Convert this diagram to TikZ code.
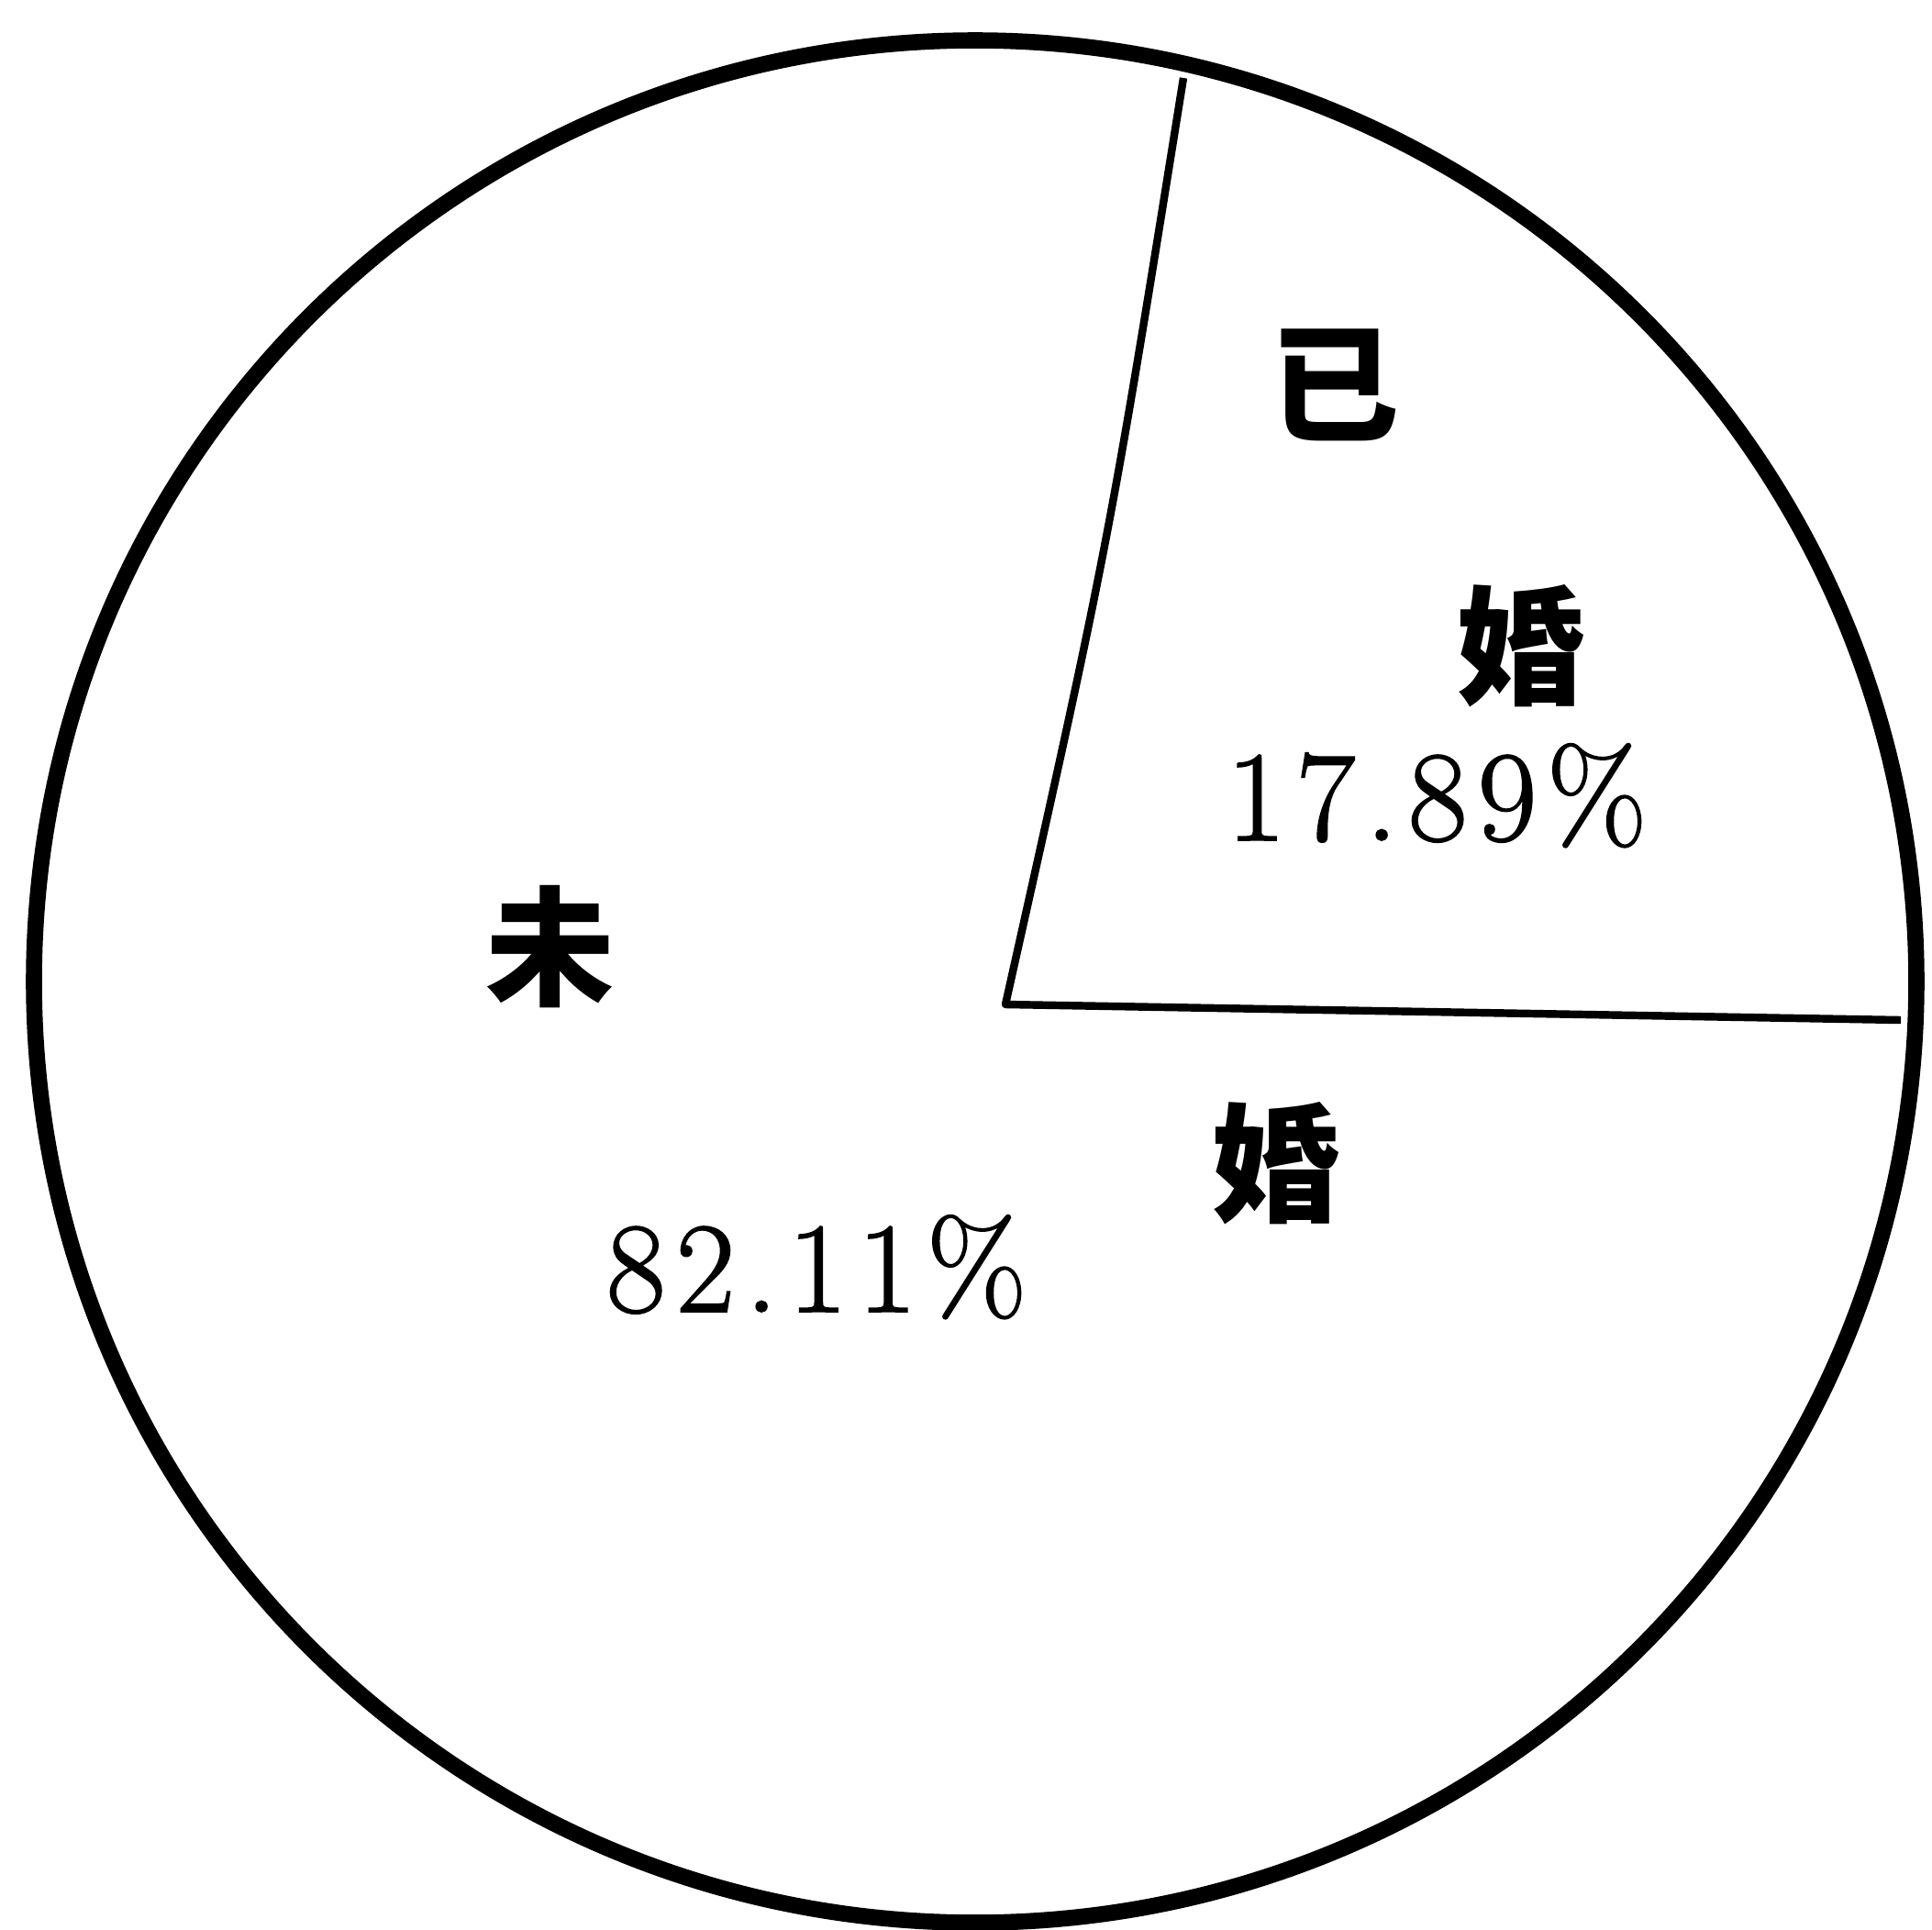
\documentclass[tikz,border=0pt]{standalone}
\usepackage{fontspec}
\newfontfamily\cjk{Noto Sans CJK SC}
\newfontfamily\numfont[FakeBold=1.3,LetterSpace=8]{Latin Modern Roman}
\begin{document}
\begin{tikzpicture}[
  rim/.style={line width=5pt},
  radius line/.style={line width=2.4pt},
  cjklabel/.style={font=\cjk\bfseries\fontsize{40}{44}\selectfont, inner sep=0pt},
  numlabel/.style={font=\numfont\fontsize{40}{44}\selectfont, inner sep=0pt, anchor=base}
]
\useasboundingbox (0,0) rectangle (21.06,-21.04);
\fill[white] (0,0) rectangle (21.06,-21.04);
\coordinate (C) at (10.63,-10.70);
\coordinate (O) at (10.96,-10.95);
\coordinate (A) at (12.90,-0.85);
\coordinate (B) at (20.72,-11.12);
\draw[rim] (C) circle (10.26);
\draw[radius line, line join=round] (A) .. controls (12.09,-5.9) .. (O) -- (B);
\node[cjklabel] (yi) at (14.55,-4.20) {已};
\node[cjklabel] (hun1) at (16.58,-7.04) {婚};
\node[numlabel] (p1) at (15.66,-9.16) {17.89\%};
\node[cjklabel] (wei) at (6.00,-10.32) {未};
\node[cjklabel] (hun2) at (13.91,-12.68) {婚};
\node[numlabel] (p2) at (8.90,-14.30) {82.11\%};
\end{tikzpicture}
\end{document}
